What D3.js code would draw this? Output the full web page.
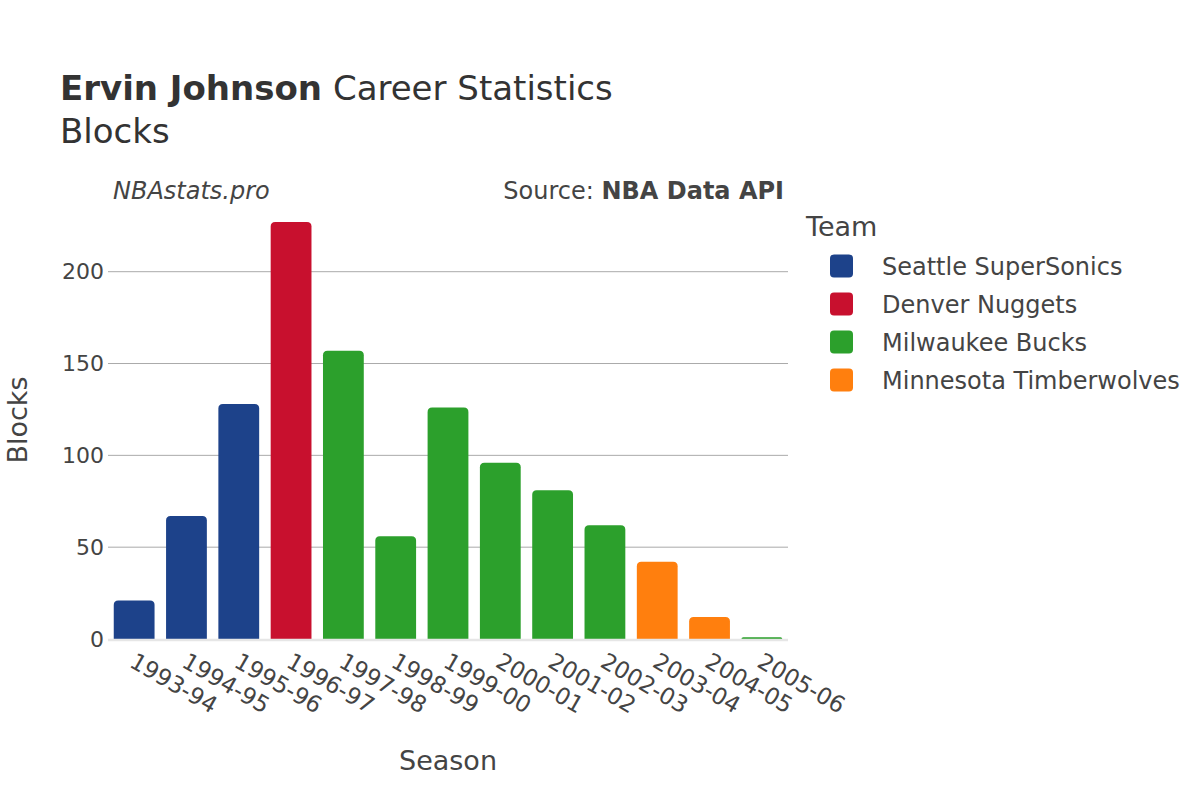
<!DOCTYPE html>
<html><head><meta charset="utf-8">
<script src="https://cdn.jsdelivr.net/npm/d3@7"></script>
<style>body{margin:0;background:#fff}svg{font-family:"DejaVu Sans",sans-serif}</style>
</head><body><svg id="c" width="1200" height="800"></svg>
<script>
const seasons = ["1993-94","1994-95","1995-96","1996-97","1997-98","1998-99","1999-00","2000-01","2001-02","2002-03","2003-04","2004-05","2005-06"];
const blocks = [21,67,128,227,157,56,126,96,81,62,42,12,1];
const seasonTeams = ["Seattle SuperSonics","Seattle SuperSonics","Seattle SuperSonics","Denver Nuggets","Milwaukee Bucks","Milwaukee Bucks","Milwaukee Bucks","Milwaukee Bucks","Milwaukee Bucks","Milwaukee Bucks","Minnesota Timberwolves","Minnesota Timberwolves","Milwaukee Bucks"];
const teams = ["Seattle SuperSonics","Denver Nuggets","Milwaukee Bucks","Minnesota Timberwolves"];
const teamColors = ["#1d428a","#c8102e","#2ca02c","#ff7f0e"];
const yTicks = [0,50,100,150,200];

const svg = d3.select("#c");
const color = d3.scaleOrdinal(teams, teamColors);
const x = d3.scaleBand(seasons, [108, 788]).paddingInner(0.22).paddingOuter(0.11);
const y = d3.scaleLinear([0, 200], [639, 271.7]);

// grid
svg.append("g").selectAll("line").data(yTicks.filter(d => d > 0)).join("line")
  .attr("x1", 108).attr("x2", 788).attr("y1", d => y(d)).attr("y2", d => y(d))
  .attr("stroke", "#aaa").attr("stroke-width", 1);

// y tick labels
const yAxis = svg.append("g").attr("transform", "translate(108,0)")
  .call(d3.axisLeft(y).tickValues(yTicks).tickSize(0).tickPadding(4));
yAxis.select(".domain").remove();
yAxis.selectAll("text").attr("font-size", 22).attr("fill", "#444").attr("font-family", "DejaVu Sans");

// bars with rounded tops
const r = 4.5;
function barPath(d, i) {
  const x0 = x(seasons[i]), w = x.bandwidth(), y0 = y(0), y1 = y(d);
  const rr = Math.min(r, (y0 - y1), w / 2);
  return `M${x0},${y0}V${y1 + rr}Q${x0},${y1} ${x0 + rr},${y1}H${x0 + w - rr}Q${x0 + w},${y1} ${x0 + w},${y1 + rr}V${y0}Z`;
}
svg.append("g").selectAll("path").data(blocks).join("path")
  .attr("d", barPath).attr("fill", (d, i) => color(seasonTeams[i]));

// zero line
svg.append("line").attr("x1", 108).attr("x2", 788).attr("y1", y(0) + 1).attr("y2", y(0) + 1)
  .attr("stroke", "#e6e6e6").attr("stroke-width", 2.5);

// x tick labels
const xAxis = svg.append("g").attr("transform", `translate(0,${y(0)})`)
  .call(d3.axisBottom(x).tickSize(0).tickPadding(0));
xAxis.select(".domain").remove();
xAxis.selectAll("text")
  .attr("font-size", 23).attr("fill", "#444").attr("font-family", "DejaVu Sans")
  .attr("text-anchor", "start").attr("dy", 0).attr("y", 0).attr("x", 0)
  .attr("transform", "translate(-6,27) rotate(30)");

// titles
const t = svg.append("text").attr("x", 60).attr("y", 100).attr("font-size", 34).attr("fill", "#333");
t.append("tspan").attr("font-weight", "bold").text("Ervin Johnson");
t.append("tspan").text(" Career Statistics");
svg.append("text").attr("x", 60).attr("y", 143).attr("font-size", 34).attr("fill", "#333").text("Blocks");

svg.append("text").attr("x", 113).attr("y", 199).attr("font-size", 24).attr("font-style", "italic").attr("fill", "#444").text("NBAstats.pro");
const s = svg.append("text").attr("x", 784).attr("y", 199).attr("font-size", 24).attr("text-anchor", "end").attr("fill", "#444");
s.append("tspan").text("Source: ");
s.append("tspan").attr("font-weight", "bold").text("NBA Data API");

// axis titles
svg.append("text").attr("x", 448).attr("y", 770).attr("font-size", 27).attr("text-anchor", "middle").attr("fill", "#444").text("Season");
svg.append("text").attr("transform", "translate(27,420) rotate(-90)").attr("font-size", 27).attr("text-anchor", "middle").attr("fill", "#444").text("Blocks");

// legend
svg.append("text").attr("x", 806).attr("y", 236).attr("font-size", 27).attr("fill", "#444").text("Team");
const lg = svg.append("g").selectAll("g").data(teams).join("g")
  .attr("transform", (d, i) => `translate(0,${266 + i * 38})`);
lg.append("rect").attr("x", 830).attr("y", -11.5).attr("width", 23).attr("height", 23).attr("rx", 4)
  .attr("fill", d => color(d));
lg.append("text").attr("x", 882).attr("y", 8.5).attr("font-size", 24).attr("fill", "#444").text(d => d);
</script></body></html>
